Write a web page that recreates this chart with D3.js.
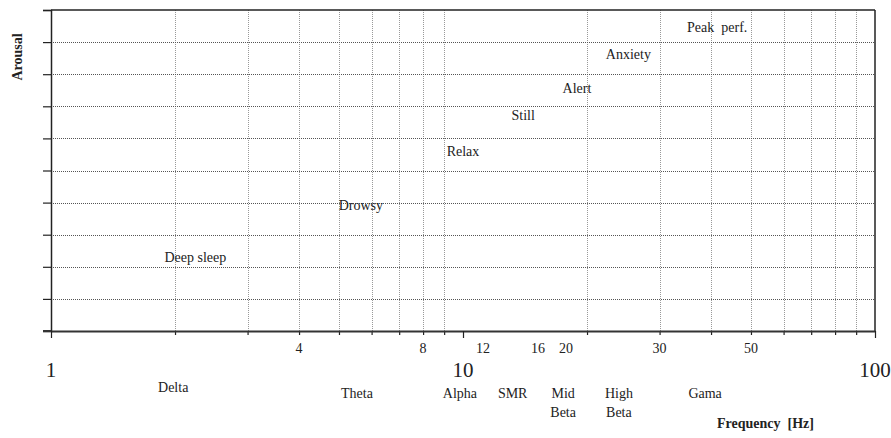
<!DOCTYPE html>
<html>
<head>
<meta charset="utf-8">
<script src="https://cdn.jsdelivr.net/npm/d3@7"></script>
<style>
  body { margin: 0; background: #fff; }
  text { font-family: "Liberation Serif", "Times New Roman", serif; fill: #222; }
</style>
</head>
<body>
<div id="chart"></div>
<script>
// brain states on the arousal / frequency plane
let states = ['Deep sleep', 'Drowsy', 'Relax', 'Still', 'Alert', 'Anxiety', 'Peak  perf.']
let stateFreq = [2.24, 5.65, 10.0, 14.0, 18.9, 25.2, 41.4]
let stateArousal = [2.3, 3.9, 5.6, 6.7, 7.55, 8.6, 9.45]

// EEG bands under the axis
let bands = [['Delta'], ['Theta'], ['Alpha'], ['SMR'], ['Mid', 'Beta'], ['High', 'Beta'], ['Gama']]
let bandFreq = [1.98, 5.53, 9.83, 13.2, 17.5, 23.9, 38.7]

// axis ticks
let decadeTicks = [1, 10, 100]
let minorTicks = [2, 3, 4, 5, 6, 7, 8, 9, 20, 30, 40, 50, 60, 70, 80, 90]
let minorLabels = [4, 8, 12, 16, 20, 30, 50]
let arousalTicks = d3.range(0, 11)

let width = 891
let height = 438
let margin = { top: 10, left: 51, right: 16, bottom: 107 }

let svg = d3.select('#chart')
  .append('svg')
  .attr('width', width)
  .attr('height', height)

let x = d3.scaleLog()
  .domain([1, 100])
  .range([margin.left, width - margin.right])

let y = d3.scaleLinear()
  .domain([0, 10])
  .range([height - margin.bottom, margin.top])

// grid
svg.selectAll('.vgrid')
  .data(minorTicks)
  .enter()
  .append('line')
  .attr('x1', d => Math.round(x(d)) + 0.5)
  .attr('x2', d => Math.round(x(d)) + 0.5)
  .attr('y1', y(10))
  .attr('y2', y(0))
  .attr('stroke', '#999')
  .attr('stroke-width', 1)
  .attr('stroke-dasharray', '1,1')

svg.selectAll('.hgrid')
  .data(arousalTicks.slice(1, 10))
  .enter()
  .append('line')
  .attr('x1', x(1))
  .attr('x2', x(100))
  .attr('y1', d => Math.round(y(d)) + 0.5)
  .attr('y2', d => Math.round(y(d)) + 0.5)
  .attr('stroke', '#555')
  .attr('stroke-width', 1)
  .attr('stroke-dasharray', '1,1')

// frame
svg.append('line')
  .attr('x1', x(1)).attr('x2', x(100))
  .attr('y1', y(10)).attr('y2', y(10))
  .attr('stroke', '#222').attr('stroke-width', 1.5)
svg.append('line')
  .attr('x1', x(100)).attr('x2', x(100))
  .attr('y1', y(10)).attr('y2', y(0))
  .attr('stroke', '#222').attr('stroke-width', 1.5)

// y axis (no labels)
let yAxis = d3.axisLeft(y)
  .tickValues(arousalTicks)
  .tickSize(8)
  .tickFormat('')
svg.append('g')
  .attr('transform', `translate(${x(1)},0)`)
  .call(yAxis)
  .call(g => g.selectAll('line').attr('stroke', '#222').attr('stroke-width', 1.2))
  .call(g => g.select('.domain').attr('stroke', '#222').attr('stroke-width', 1.5))

// x axis: short ticks for minor, long for decades
svg.append('g')
  .attr('transform', `translate(0,${y(0)})`)
  .call(d3.axisBottom(x).tickValues(minorTicks).tickSize(4).tickFormat(''))
  .call(g => g.selectAll('line').attr('stroke', '#222').attr('stroke-width', 1.2))
  .call(g => g.select('.domain').remove())

svg.append('g')
  .attr('transform', `translate(0,${y(0)})`)
  .call(d3.axisBottom(x).tickValues(decadeTicks).tickSize(7).tickSizeOuter(0).tickFormat(''))
  .call(g => g.selectAll('line').attr('stroke', '#222').attr('stroke-width', 1.2))
  .call(g => g.select('.domain').attr('stroke', '#333').attr('stroke-width', 2))

svg.append('line')
  .attr('x1', x(1) - 8).attr('x2', x(1))
  .attr('y1', y(0)).attr('y2', y(0))
  .attr('stroke', '#333').attr('stroke-width', 2)

// tick labels
let labelNudge = { 12: -12.5, 16: -9, 20: -21 }

svg.selectAll('.minor-label')
  .data(minorLabels)
  .enter()
  .append('text')
  .attr('x', d => x(d) + (labelNudge[d] || 0))
  .attr('y', 353)
  .attr('text-anchor', 'middle')
  .attr('font-size', 14)
  .text(d => d)

svg.selectAll('.decade-label')
  .data(decadeTicks)
  .enter()
  .append('text')
  .attr('x', d => x(d))
  .attr('y', 377)
  .attr('text-anchor', 'middle')
  .attr('font-size', 21)
  .text(d => d)

// band names
svg.selectAll('.band')
  .data(bands)
  .enter()
  .append('text')
  .attr('y', (d, i) => i === 0 ? 392 : 398)
  .attr('text-anchor', 'middle')
  .attr('font-size', 14)
  .each(function(d, i) {
    let t = d3.select(this)
    d.forEach((line, j) => {
      t.append('tspan')
        .attr('x', x(bandFreq[i]))
        .attr('dy', j === 0 ? 0 : 19)
        .text(line)
    })
  })

// state labels
svg.selectAll('.state')
  .data(states)
  .enter()
  .append('text')
  .attr('x', (d, i) => x(stateFreq[i]))
  .attr('y', (d, i) => y(stateArousal[i]))
  .attr('dy', '0.32em')
  .attr('text-anchor', 'middle')
  .attr('font-size', 14)
  .style('white-space', 'pre')
  .text(d => d)

// axis titles
svg.append('text')
  .attr('transform', `translate(22,57) rotate(-90)`)
  .attr('text-anchor', 'middle')
  .attr('font-size', 14)
  .attr('font-weight', 'bold')
  .text('Arousal')

svg.append('text')
  .attr('x', 717)
  .attr('y', 428)
  .attr('font-size', 14)
  .attr('font-weight', 'bold')
  .style('white-space', 'pre')
  .text('Frequency  [Hz]')
</script>
</body>
</html>
